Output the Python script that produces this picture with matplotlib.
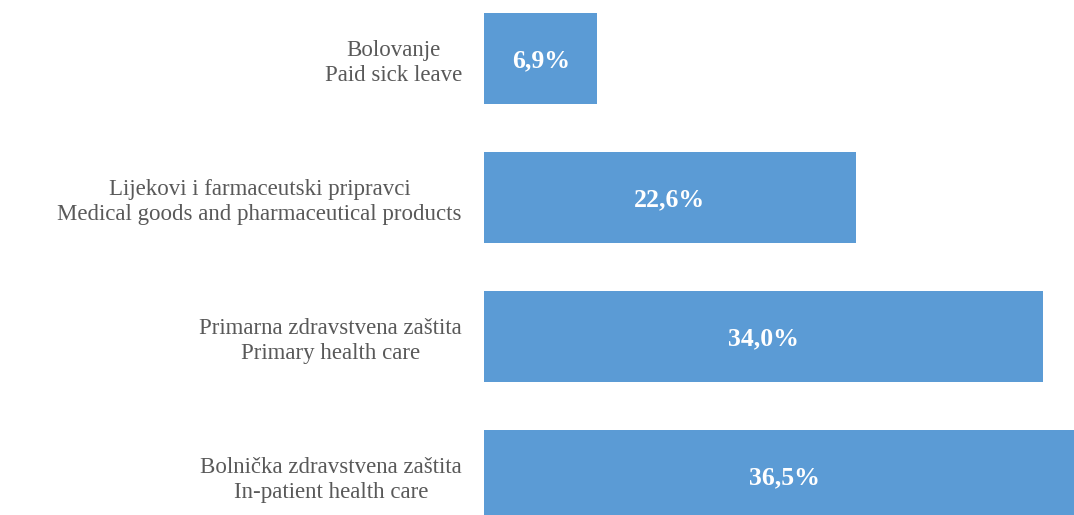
import matplotlib
matplotlib.use("Agg")
import matplotlib.pyplot as plt

# categories top to bottom
labels = [
    "Bolovanje\nPaid sick leave",
    "Lijekovi i farmaceutski pripravci\nMedical goods and pharmaceutical products",
    "Primarna zdravstvena zaštita\nPrimary health care",
    "Bolnička zdravstvena zaštita\nIn-patient health care",
]
shares = [6.9, 22.6, 34.0, 36.5]

BAR_COLOR = "#5B9BD5"
TEXT_COLOR = "#595959"
FONT = "Liberation Serif"

fig = plt.figure(figsize=(10.74, 5.15), dpi=100)
ax = fig.add_axes([484 / 1074, 0, 1 - 484 / 1074, 1])

pos = list(range(len(shares)))
ax.barh(pos, shares, height=0.655, color=BAR_COLOR)

for p, v in zip(pos, shares):
    ax.text(v / 2, p, f"{v:.1f}%".replace(".", ","), ha="center",
            va="center_baseline", color="white", fontsize=18.5,
            fontweight="bold", family=FONT)

ax.set_xlim(0, 35.89)
ax.set_ylim(3.284, -0.421)
ax.set_yticks(pos)
ax.set_yticklabels(labels, fontsize=16.5, color=TEXT_COLOR, family=FONT,
                   multialignment="center", linespacing=1.25)
ax.tick_params(axis="y", length=0, pad=16)
ax.set_xticks([])
for s in ax.spines.values():
    s.set_visible(False)

fig.savefig("out.png", dpi=100)
